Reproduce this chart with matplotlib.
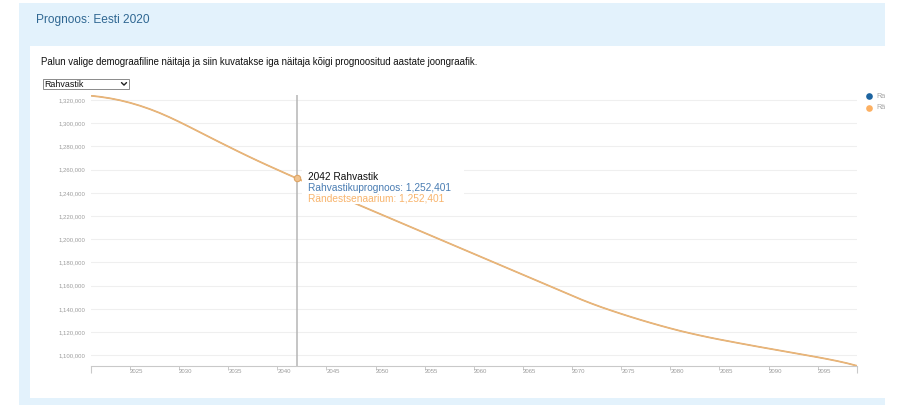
import matplotlib
matplotlib.use('Agg')
import matplotlib.pyplot as plt
from matplotlib.patches import Rectangle
from matplotlib.ticker import FuncFormatter

# ---------------- data ----------------
title = "Prognoos: Eesti 2020"
intro = ("Palun valige demograafiline näitaja ja siin kuvatakse iga näitaja "
         "kõigi prognoositud aastate joongraafik.")
indicator = "Rahvastik"
series_names = ["Rahvastikuprognoos", "Rändestsenaarium"]

years = [2021, 2022, 2023, 2024, 2025, 2026, 2027, 2028, 2029, 2030,
         2031, 2032, 2033, 2034, 2035, 2036, 2037, 2038, 2039, 2040,
         2041, 2042, 2043, 2044, 2045, 2046, 2047, 2048, 2049, 2050,
         2051, 2052, 2053, 2054, 2055, 2056, 2057, 2058, 2059, 2060,
         2061, 2062, 2063, 2064, 2065, 2066, 2067, 2068, 2069, 2070,
         2071, 2072, 2073, 2074, 2075, 2076, 2077, 2078, 2079, 2080,
         2081, 2082, 2083, 2084, 2085, 2086, 2087, 2088, 2089, 2090,
         2091, 2092, 2093, 2094, 2095, 2096, 2097, 2098, 2099]

rahvastikuprognoos = [
    1323700, 1322700, 1321400, 1319700, 1317600, 1315100, 1312200, 1308900, 1305200, 1301200,
    1297000, 1292700, 1288400, 1284100, 1279900, 1275700, 1271600, 1267600, 1263700, 1259900,
    1256100, 1252401, 1248750, 1245100, 1241450, 1237800, 1234200, 1230600, 1227000, 1223400,
    1219800, 1216200, 1212600, 1209000, 1205400, 1201800, 1198200, 1194600, 1191000, 1187400,
    1183800, 1180200, 1176600, 1173000, 1169400, 1165800, 1162200, 1158600, 1155000, 1151400,
    1147800, 1144500, 1141400, 1138500, 1135700, 1133000, 1130400, 1127900, 1125500, 1123200,
    1121000, 1119000, 1117100, 1115300, 1113600, 1112000, 1110400, 1108850, 1107300, 1105800,
    1104300, 1102800, 1101300, 1099800, 1098300, 1096700, 1095000, 1093100, 1090900]

randestsenaarium = [
    1323700, 1322700, 1321400, 1319700, 1317600, 1315100, 1312200, 1308900, 1305200, 1301200,
    1297000, 1292700, 1288400, 1284100, 1279900, 1275700, 1271600, 1267600, 1263700, 1259900,
    1256100, 1252401, 1248750, 1245100, 1241450, 1237800, 1234200, 1230600, 1227000, 1223400,
    1219800, 1216200, 1212600, 1209000, 1205400, 1201800, 1198200, 1194600, 1191000, 1187400,
    1183800, 1180200, 1176600, 1173000, 1169400, 1165800, 1162200, 1158600, 1155000, 1151400,
    1147800, 1144500, 1141400, 1138500, 1135700, 1133000, 1130400, 1127900, 1125500, 1123200,
    1121000, 1119000, 1117100, 1115300, 1113600, 1112000, 1110400, 1108850, 1107300, 1105800,
    1104300, 1102800, 1101300, 1099800, 1098300, 1096700, 1095000, 1093100, 1090900]

hover_year = 2042
x_ticks = [2025, 2030, 2035, 2040, 2045, 2050, 2055, 2060, 2065, 2070,
           2075, 2080, 2085, 2090, 2095]
y_ticks = [1100000, 1120000, 1140000, 1160000, 1180000, 1200000,
           1220000, 1240000, 1260000, 1280000, 1300000, 1320000]

# ---------------- styling ----------------
W, H = 897, 405
plt.rcParams['font.family'] = ['Liberation Sans', 'DejaVu Sans']

BLUE = '#1d64a0'
ORANGE = '#fcb062'
LINE = '#ebb577'
PANEL = '#e3f2fc'

fig = plt.figure(figsize=(W / 100, H / 100), dpi=100)
fig.patch.set_facecolor('white')

# background (page) layer in pixel coords
bg = fig.add_axes([0, 0, 1, 1], zorder=0)
bg.set_xlim(0, W)
bg.set_ylim(H, 0)
bg.axis('off')
bg.add_patch(Rectangle((19, 3), 866, 402, facecolor=PANEL, edgecolor='none'))
bg.add_patch(Rectangle((30, 46), 855, 352, facecolor='white', edgecolor='none'))
bg.text(36, 20.5, title, fontsize=8.6, color='#2f6792', va='center', ha='left')
bg.text(41, 62, intro, fontsize=6.9, color='#111111', va='center', ha='left')
# dropdown
bg.add_patch(Rectangle((42.5, 79), 86.5, 10, facecolor='white', edgecolor='#8a8a8a', lw=0.7))
bg.text(44.5, 84.2, indicator, fontsize=6.4, color='#111111', va='center', ha='left')
bg.plot([121.5, 124, 126.5], [82.6, 85.1, 82.6], color='#222222', lw=1.0,
        solid_capstyle='round', solid_joinstyle='round')

# main chart
left, right, top, bottom = 90.7, 857, 95, 365.7
ax = fig.add_axes([left / W, (H - bottom) / H, (right - left) / W, (bottom - top) / H], zorder=1)
ax.patch.set_alpha(0)

ax.plot(years, rahvastikuprognoos, color=BLUE, lw=0.6, zorder=3)
ax.plot(years, randestsenaarium, color=LINE, lw=1.3, zorder=4,
        solid_capstyle='butt')
ax.axvline(hover_year, color='#b5b5b5', lw=1.1, zorder=2)
hv = randestsenaarium[years.index(hover_year)]
ax.plot([hover_year], [hv], marker='o', ms=4.6, mfc='#f1c38e', mec='#dea566',
        mew=0.8, zorder=5)

ax.set_xlim(years[0], years[-1])
ax.set_ylim(1091000, 1324300)
ax.set_xticks(x_ticks)
ax.set_xticks([years[0], years[-1]], minor=True)
ax.set_yticks(y_ticks)
ax.yaxis.set_major_formatter(FuncFormatter(lambda v, p: f"{int(v):,}"))
for s in ['left', 'right', 'top']:
    ax.spines[s].set_visible(False)
ax.spines['bottom'].set_color('#c9c9c9')
ax.spines['bottom'].set_linewidth(0.8)
ax.tick_params(axis='x', which='major', length=3.0, width=0.7, color='#c9c9c9',
               pad=-0.5, labelsize=4.3, labelcolor='#9c9c9c')
ax.tick_params(axis='x', which='minor', length=4.8, width=0.8, color='#c9c9c9')
ax.tick_params(axis='y', length=0, pad=4.1, labelsize=4.3, labelcolor='#9c9c9c')
for lbl in ax.get_xticklabels():
    lbl.set_horizontalalignment('left')
ax.yaxis.grid(True, color='#efefef', lw=0.75)
ax.set_axisbelow(True)

# overlay (tooltip, legend)
ov = fig.add_axes([0, 0, 1, 1], zorder=2)
ov.set_xlim(0, W)
ov.set_ylim(H, 0)
ov.axis('off')
ov.patch.set_alpha(0)
ov.add_patch(Rectangle((301.5, 167), 162, 37.3, facecolor='white', edgecolor='none'))
ov.text(307.5, 176.7, f"{hover_year} {indicator}", fontsize=7.3, color='#111111',
        va='center', ha='left')
ov.text(307.5, 187.7, f"{series_names[0]}: {rahvastikuprognoos[years.index(hover_year)]:,}",
        fontsize=7.3, color='#4a7db3', va='center', ha='left')
ov.text(307.5, 198.5, f"{series_names[1]}: {hv:,}", fontsize=7.3, color='#f8b46c',
        va='center', ha='left')

for i, (name, col) in enumerate(zip(series_names, [BLUE, ORANGE])):
    yy = 96 + i * 11.7
    ov.plot([869], [yy], marker='o', ms=4.8, color=col, mec='none')
    ov.text(876.5, yy, name, fontsize=5.2, color='#a8a8a8', va='center', ha='left',
            clip_on=True)

# page edge: the container ends at x=885, content beyond is hidden
edge = fig.add_axes([0, 0, 1, 1], zorder=3)
edge.set_xlim(0, W)
edge.set_ylim(H, 0)
edge.axis('off')
edge.patch.set_alpha(0)
edge.add_patch(Rectangle((885, 0), W - 885, H, facecolor='white', edgecolor='none'))

fig.savefig('out.png', dpi=100, facecolor='white')
